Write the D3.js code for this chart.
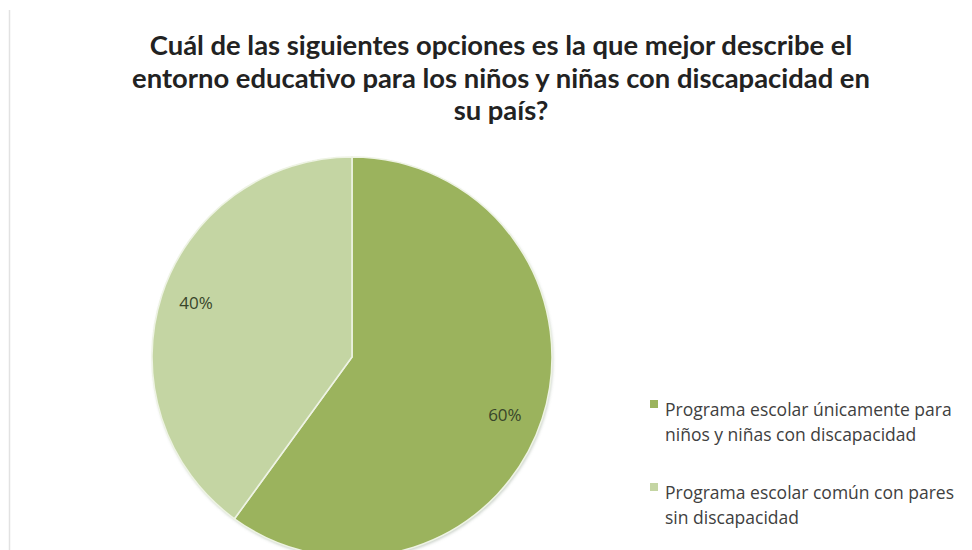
<!DOCTYPE html>
<html>
<head>
<meta charset="utf-8">
<script src="https://cdn.jsdelivr.net/npm/d3@7"></script>
<style>
  html, body { margin: 0; padding: 0; background: #ffffff; }
  svg { display: block; }
</style>
</head>
<body>
<svg id="chart" width="972" height="550"></svg>
<script>
// Survey answers and their shares (percent)
const categories = [
  "Programa escolar únicamente para niños y niñas con discapacidad",
  "Programa escolar común con pares sin discapacidad"
];
const values = [60, 40];
const legendLines = [
  ["Programa escolar únicamente para", "niños y niñas con discapacidad"],
  ["Programa escolar común con pares", "sin discapacidad"]
];
const titleLines = [
  "Cuál de las siguientes opciones es la que mejor describe el",
  "entorno educativo para los niños y niñas con discapacidad en",
  "su país?"
];
const colors = ["#9bb35d", "#c4d5a3"];

const svg = d3.select("#chart");
const W = 972, H = 550;

// thin frame line on the left
svg.append("line")
  .attr("x1", 9.5).attr("x2", 9.5)
  .attr("y1", 10).attr("y2", H)
  .attr("stroke", "#e2e2e2").attr("stroke-width", 1.5);

// title
const title = svg.append("text")
  .attr("text-anchor", "middle")
  .attr("font-family", "Lato, 'Open Sans', sans-serif")
  .attr("font-weight", "bold")
  .attr("font-size", 27.4)
  .attr("fill", "#222222");
titleLines.forEach((t, i) => {
  title.append("tspan").attr("x", 501).attr("y", 55 + i * 32.5).text(t);
});

// soft shadow under the pie
const defs = svg.append("defs");
const f = defs.append("filter").attr("id", "pieShadow")
  .attr("x", "-10%").attr("y", "-10%").attr("width", "120%").attr("height", "120%");
f.append("feDropShadow").attr("dx", 1).attr("dy", 2).attr("stdDeviation", 1.5)
  .attr("flood-color", "#8a9a86").attr("flood-opacity", 0.45);

const cx = 352, cy = 357, r = 200;
const pie = d3.pie().sort(null).value(d => d.value);
const arcs = pie(values.map((v, i) => ({ value: v, name: categories[i], i })));
const arc = d3.arc().innerRadius(0).outerRadius(r);

const g = svg.append("g").attr("transform", `translate(${cx},${cy})`);
g.append("circle").attr("r", r).attr("fill", colors[0]).attr("filter", "url(#pieShadow)");
g.selectAll("path.slice")
  .data(arcs)
  .join("path")
  .attr("class", "slice")
  .attr("d", arc)
  .attr("fill", d => colors[d.data.i])
  .attr("stroke", "#eef3e4")
  .attr("stroke-width", 1.6);

// value labels, placed near each slice's mid-angle
const labelPos = d3.arc().innerRadius(r * 0.83).outerRadius(r * 0.83);
const labelNudge = [[-5, 6], [2, -3]];
g.selectAll("text.val")
  .data(arcs)
  .join("text")
  .attr("class", "val")
  .attr("text-anchor", "middle")
  .attr("dominant-baseline", "central")
  .attr("font-family", "'Open Sans', sans-serif")
  .attr("font-size", 17)
  .attr("fill", "#38452a")
  .attr("transform", d => {
    const [x, y] = labelPos.centroid(d);
    const [nx, ny] = labelNudge[d.data.i];
    return `translate(${x + nx},${y + ny})`;
  })
  .text(d => d.data.value + "%");

// legend
const legend = svg.append("g").attr("transform", "translate(650,400)");
legendLines.forEach((lines, i) => {
  const y0 = i * 83;
  legend.append("rect")
    .attr("x", 0).attr("y", y0).attr("width", 8).attr("height", 8)
    .attr("fill", colors[i]);
  const t = legend.append("text")
    .attr("font-family", "'Open Sans', sans-serif")
    .attr("font-size", 17.5)
    .attr("fill", "#404040");
  lines.forEach((ln, j) => {
    t.append("tspan").attr("x", 15).attr("y", y0 + 16 + j * 25).text(ln);
  });
});
</script>
</body>
</html>
